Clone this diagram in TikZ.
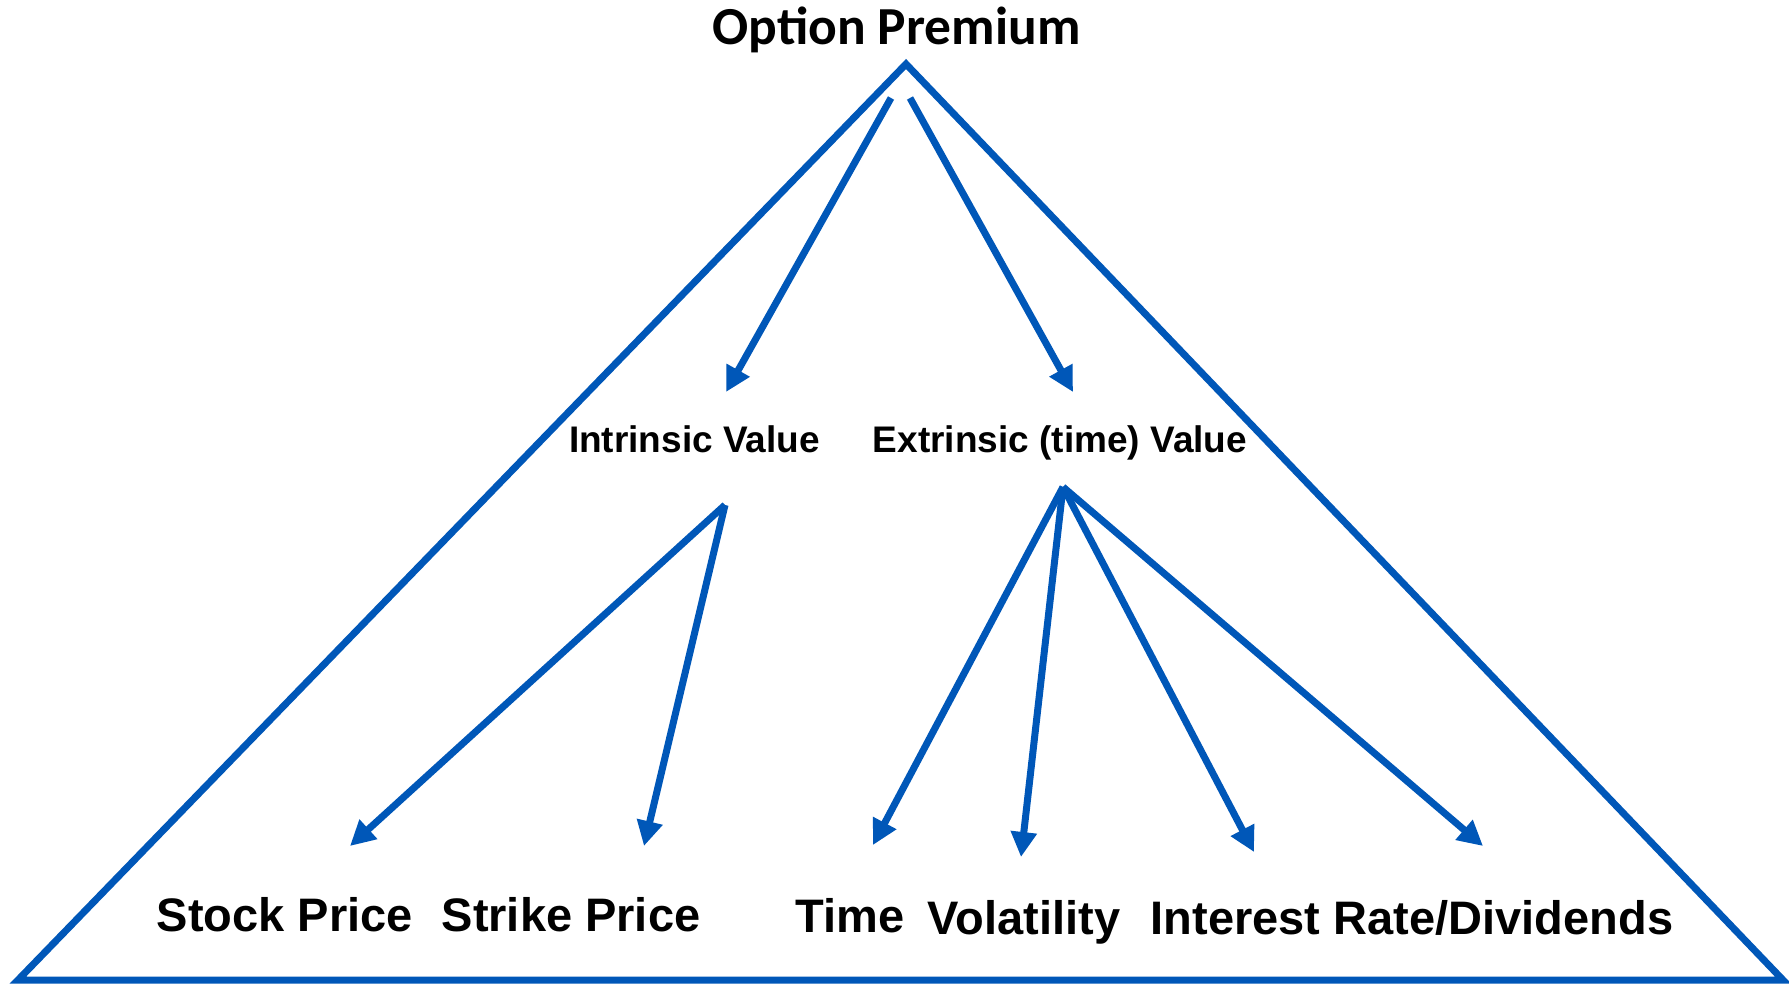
\documentclass[tikz,border=0pt]{standalone}
\usepackage{fontspec}
\usetikzlibrary{arrows.meta}
\newfontfamily\labelfont{Liberation Sans}
\newfontfamily\titlefont{Carlito}
\definecolor{treeblue}{RGB}{0,87,184}

\begin{document}
\begin{tikzpicture}[x=1pt,y=-1pt,
  frame/.style={draw=treeblue, line width=7pt, line join=miter},
  link/.style={draw=treeblue, line width=7pt, -{Triangle[length=25pt,width=25pt]}},
  title/.style={font=\titlefont\bfseries\fontsize{53.5}{64}\selectfont, inner sep=0pt, anchor=base},
  mid/.style={font=\labelfont\bfseries\fontsize{37}{44}\selectfont, inner sep=0pt, anchor=base},
  leaf/.style={font=\labelfont\bfseries\fontsize{47}{56}\selectfont, inner sep=0pt, anchor=base}]
\useasboundingbox (0,0) rectangle (1789,983);
\fill[white] (0,0) rectangle (1789,983);

% enclosing triangle
\coordinate (apex) at (906,64);
\coordinate (bl) at (18,980);
\coordinate (br) at (1783,980);
\draw[frame] (apex) -- (bl) -- (br) -- cycle;

% labels
\node[title] (premium) at (896.5,44) {Option Premium};
\node[mid] (intrinsic) at (694.5,452) {Intrinsic Value};
\node[mid] (extrinsic) at (1060,452) {Extrinsic (time) Value};
\node[leaf] (stock) at (285,931) {Stock Price};
\node[leaf] (strike) at (571,931) {Strike Price};
\node[leaf] (time) at (850,932) {Time};
\node[leaf] (vol) at (1024,934) {Volatility};
\node[leaf] (rate) at (1412,934) {Interest Rate/Dividends};

% arrow anchor points
\coordinate (premL) at (891,98);
\coordinate (premR) at (910,98);
\coordinate (intrinsicIn) at (726,392);
\coordinate (extrinsicIn) at (1073,392);
\coordinate (intrinsicOut) at (725,505);
\coordinate (extrinsicOut) at (1063,487);
\coordinate (stockIn) at (350,846);
\coordinate (strikeIn) at (644,846);
\coordinate (timeIn) at (873,845);
\coordinate (volIn) at (1021,857);
\coordinate (rateIn) at (1254,852);
\coordinate (divIn) at (1483,846);

% connectors
\draw[link] (premL) -- (intrinsicIn);
\draw[link] (premR) -- (extrinsicIn);
\draw[link] (intrinsicOut) -- (stockIn);
\draw[link] (intrinsicOut) -- (strikeIn);
\draw[link] (extrinsicOut) -- (timeIn);
\draw[link] (extrinsicOut) -- (volIn);
\draw[link] (extrinsicOut) -- (rateIn);
\draw[link] (extrinsicOut) -- (divIn);
\end{tikzpicture}
\end{document}
